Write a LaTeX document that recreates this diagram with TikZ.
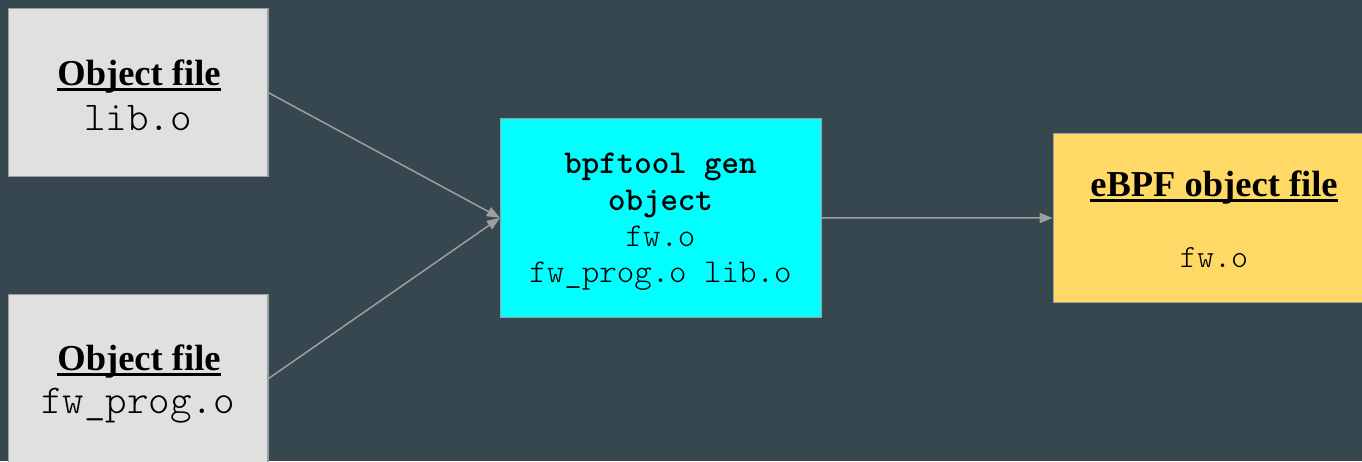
\documentclass[tikz,border=0pt]{standalone}
\usepackage{fontspec}
\setmainfont{Liberation Serif}
\setmonofont{Latin Modern Mono Light}
\usetikzlibrary{arrows.meta}
\definecolor{bg}{HTML}{37474F}
\definecolor{boxgray}{HTML}{E0E0E0}
\definecolor{edgegray}{HTML}{9E9E9E}
\definecolor{gencyan}{HTML}{00FFFF}
\definecolor{outyellow}{HTML}{FFD966}
\begin{document}
\begin{tikzpicture}[x=1pt,y=-1pt,
  box/.style={draw=edgegray, line width=1.2pt, inner sep=0pt, rectangle},
  filebox/.style={box, fill=boxgray, minimum width=259.5pt, minimum height=168pt},
  head/.style={inner sep=0pt, anchor=base, text=black, font=\fontsize{36.5}{40}\selectfont\bfseries},
  bigmono/.style={inner sep=0pt, anchor=base, text=black, font=\fontsize{41}{44}\selectfont\ttfamily},
  mono/.style={inner sep=0pt, anchor=base, text=black, font=\fontsize{33.3}{38}\selectfont\ttfamily},
  monobold/.style={mono, font=\fontsize{33.3}{38}\selectfont\ttfamily\bfseries},
  uline/.style={line width=3pt, black},
  conn/.style={draw=edgegray, line width=1.5pt, -{Triangle[length=13pt, width=10pt]}}]

  % canvas
  \clip (0,0) rectangle (1362,461);
  \fill[bg] (0,0) rectangle (1362,461);

  % input object files
  \node[filebox] (o1) at (138.25,92.75) {};
  \node[filebox] (o2) at (138.25,378.5) {};

  % bpftool step
  \node[box, fill=gencyan, minimum width=321pt, minimum height=199pt] (gen) at (661,217.8) {};

  % resulting eBPF object
  \node[box, fill=outyellow, minimum width=322pt, minimum height=169.5pt] (out) at (1214.25,218) {};

  % labels of the first object file
  \node[head] (h1) at (139,85) {Object file};
  \draw[uline] ([yshift=-4pt]h1.base west) -- ([yshift=-4pt]h1.base east);
  \node[bigmono] (t1) at (138,130) {lib.o};

  % labels of the second object file
  \node[head] (h2) at (139,370) {Object file};
  \draw[uline] ([yshift=-4pt]h2.base west) -- ([yshift=-4pt]h2.base east);
  \node[bigmono] (t2) at (138,413) {fw\_prog.o};

  % command text
  \node[monobold] (c1) at (660.5,173) {bpftool gen};
  \node[monobold] (c2) at (660.5,210) {object};
  \node[mono] (c3) at (660.5,246) {fw.o};
  \node[mono] (c4) at (660.5,282) {fw\_prog.o lib.o};

  % output labels
  \node[head] (h3) at (1214,196) {eBPF object file};
  \draw[uline] ([yshift=-4pt]h3.base west) -- ([yshift=-4pt]h3.base east);
  \node[mono, font=\fontsize{32.4}{38}\selectfont\ttfamily] (t3) at (1214,267) {fw.o};

  % connectors
  \draw[conn] (o1.east) -- (gen.west);
  \draw[conn] (o2.east) -- (gen.west);
  \draw[conn] (gen.east) -- (out.west);
\end{tikzpicture}
\end{document}
